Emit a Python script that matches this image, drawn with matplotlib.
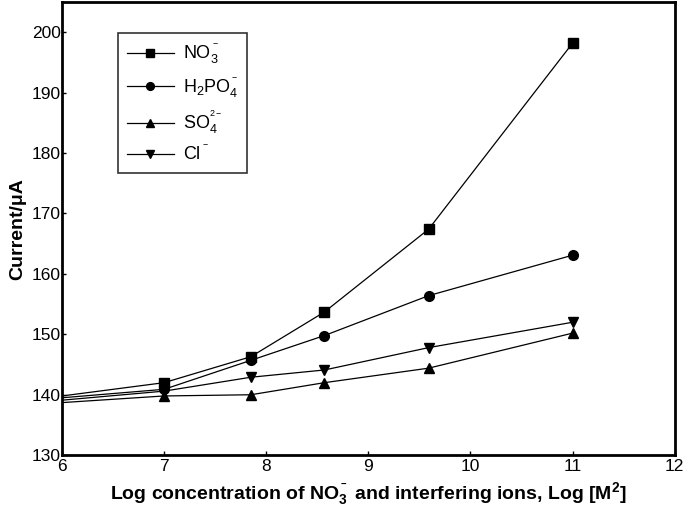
import numpy as np
import matplotlib
matplotlib.use('Agg')
import matplotlib.pyplot as plt

# data
conc = [6, 7, 7.85, 8.57, 9.59, 11]
no3 = [139.8, 142.0, 146.3, 153.7, 167.4, 198.2]
h2po4 = [139.5, 140.9, 145.7, 149.8, 156.4, 163.1]
so4 = [138.7, 139.8, 140.0, 142.0, 144.4, 150.2]
cl = [139.1, 140.6, 142.9, 144.1, 147.8, 152.0]

labels = ['NO$_3^{^-}$', 'H$_2$PO$_4^{^-}$', 'SO$_4^{^{2-}}$', 'Cl$^{^-}$']
xticks = [6, 7, 8, 9, 10, 11, 12]
yticks = [130, 140, 150, 160, 170, 180, 190, 200]

plt.rcParams['font.family'] = ['Liberation Sans', 'DejaVu Sans']
plt.rcParams['mathtext.default'] = 'regular'

fig = plt.figure(figsize=(6.85, 5.08), dpi=100)
ax = fig.add_axes([0.0905, 0.104, 0.8945, 0.892])

series = [(no3, 's'), (h2po4, 'o'), (so4, '^'), (cl, 'v')]
for (vals, mk), lab in zip(series, labels):
    ax.plot(conc, vals, color='black', lw=0.9, marker=mk, ms=7,
            markevery=list(range(1, len(conc))), label=lab)

ax.set_xlim(6, 12)
ax.set_ylim(130, 205)
ax.set_xticks(xticks)
ax.set_yticks(yticks)
ax.tick_params(direction='in', length=3, width=1, labelsize=12.5, pad=1)
ax.tick_params(axis='x', pad=3)
for s in ax.spines.values():
    s.set_linewidth(2)

ax.set_ylabel('Current/μA', fontsize=14, fontweight='bold', labelpad=4)
ax.set_xlabel('Log concentration of NO$_3^{^-}$ and interfering ions, Log [M$^2$]',
              fontsize=14, fontweight='bold', labelpad=4)

leg = ax.legend(loc='upper left', bbox_to_anchor=(0.091, 0.932), fontsize=13,
                frameon=True, fancybox=False, edgecolor='black',
                handlelength=2.6, labelspacing=0.5, borderpad=0.5,
                handletextpad=0.5, markerscale=0.8, borderaxespad=0)
leg.get_frame().set_linewidth(1.2)

fig.savefig('out.png', dpi=100)
